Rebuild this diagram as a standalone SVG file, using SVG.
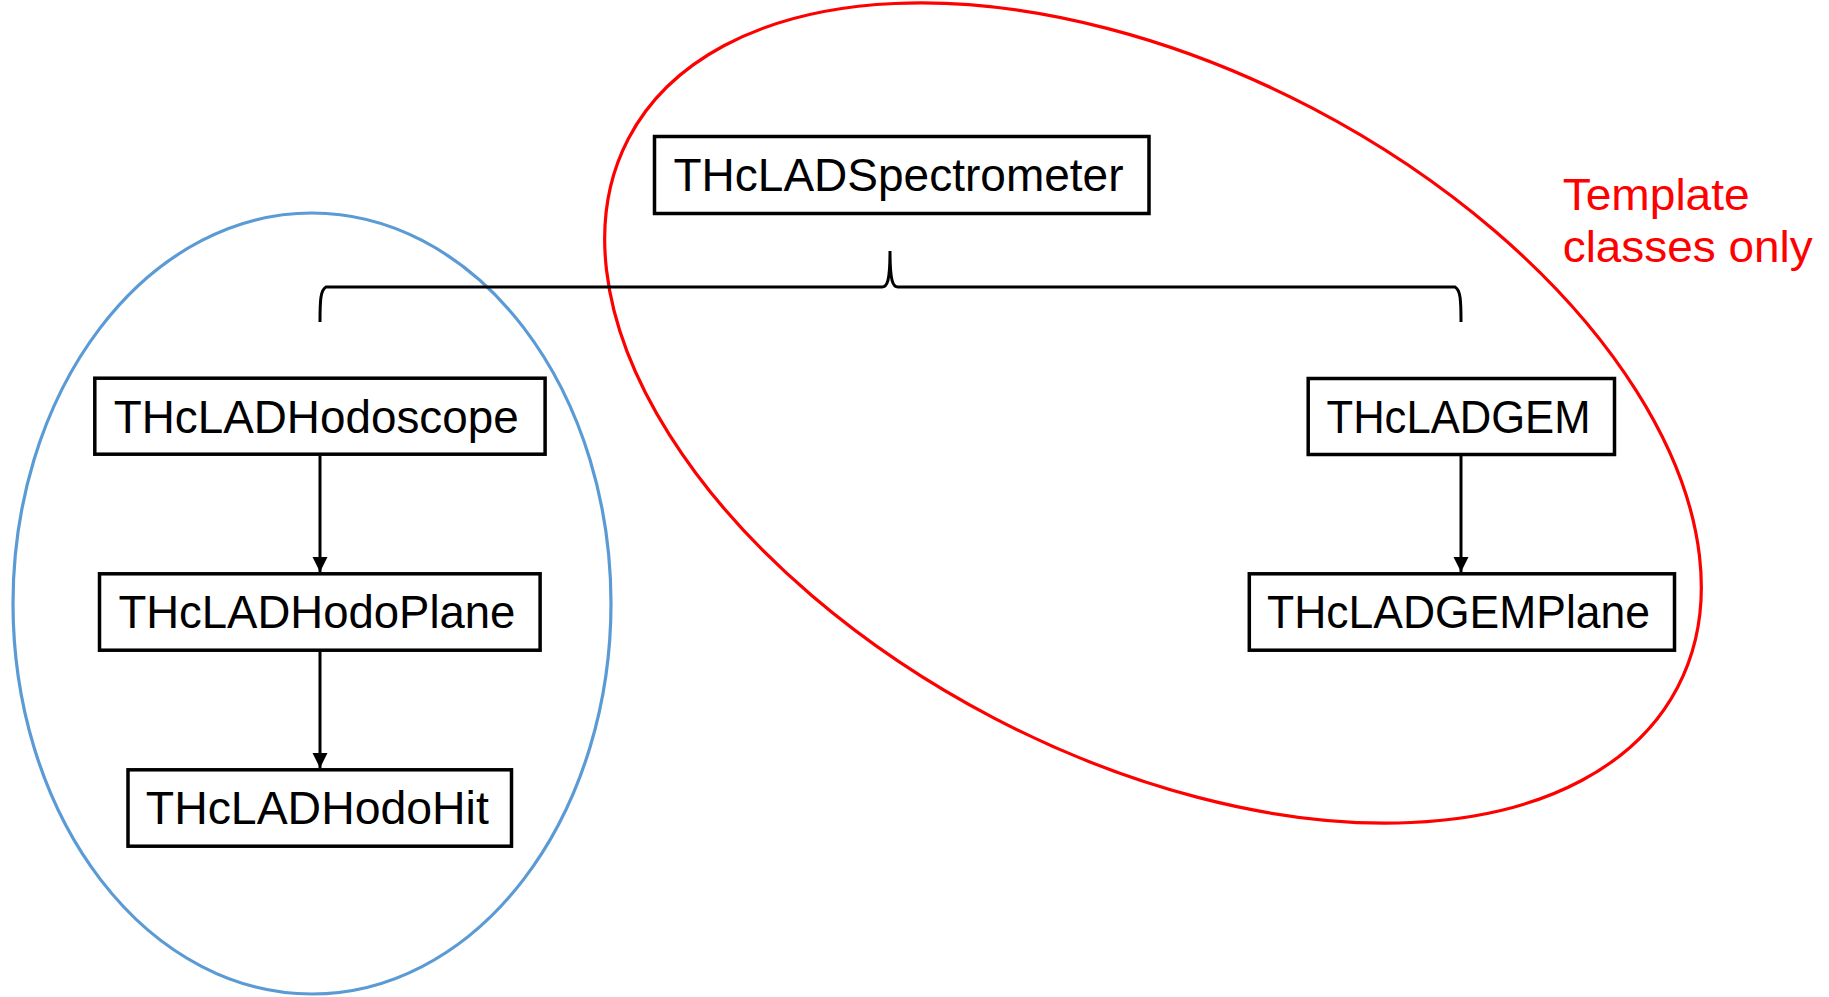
<svg xmlns="http://www.w3.org/2000/svg" width="1829" height="997" viewBox="0 0 1829 997">
<style>
.box{fill:#ffffff;stroke:#000000;stroke-width:3.5}
.lbl{font-family:"Liberation Sans",Arial,sans-serif;font-size:46px;fill:#000000}
.note{font-family:"Liberation Sans",Arial,sans-serif;font-size:45px;fill:#ff0000}
.conn{fill:none;stroke:#000000;stroke-width:3}
</style>
<defs>
<marker id="arr" markerUnits="userSpaceOnUse" markerWidth="16" markerHeight="16" refX="15" refY="7.5" orient="auto">
<path d="M0,0 L15,7.5 L0,15 Z" fill="#000000"/>
</marker>
</defs>
<rect width="1829" height="997" fill="#ffffff"/>
<g id="groups">
<ellipse id="blue-group" cx="312" cy="603.5" rx="299" ry="390.5" fill="none" stroke="#5B9BD5" stroke-width="3.2"/>
<ellipse id="red-group" cx="1153" cy="413" rx="592" ry="344" transform="rotate(27.6 1153 413)" fill="none" stroke="#ff0000" stroke-width="3.2"/>
</g>
<g id="connectors">
<path class="conn" stroke-width="3.5" d="M320,322 C320,300 320.5,290 326,287 L882,287 C887,287 890,282 890,251 C890,282 893,287 898,287 L1455,287 C1460.5,290 1461,300 1461,322"/>
<line class="conn" x1="320" y1="456" x2="320" y2="572" marker-end="url(#arr)"/>
<line class="conn" x1="320" y1="652" x2="320" y2="768" marker-end="url(#arr)"/>
<line class="conn" x1="1461" y1="456" x2="1461" y2="572" marker-end="url(#arr)"/>
</g>
<g id="node-spectrometer">
<rect class="box" x="654.5" y="136.5" width="494.5" height="77"/>
<text class="lbl" x="673.5" y="191" textLength="450" lengthAdjust="spacingAndGlyphs">THcLADSpectrometer</text>
</g>
<g id="node-hodoscope">
<rect class="box" x="94.8" y="378.2" width="450.3" height="76"/>
<text class="lbl" x="113.7" y="433" textLength="405" lengthAdjust="spacingAndGlyphs">THcLADHodoscope</text>
</g>
<g id="node-hodoplane">
<rect class="box" x="99.5" y="573.8" width="440.6" height="76.4"/>
<text class="lbl" x="118.4" y="628" textLength="397" lengthAdjust="spacingAndGlyphs">THcLADHodoPlane</text>
</g>
<g id="node-hodohit">
<rect class="box" x="128" y="769.8" width="383.5" height="76.4"/>
<text class="lbl" x="145.8" y="823.5" textLength="343" lengthAdjust="spacingAndGlyphs">THcLADHodoHit</text>
</g>
<g id="node-gem">
<rect class="box" x="1308.2" y="378.5" width="306.3" height="76"/>
<text class="lbl" x="1326.5" y="433" textLength="264" lengthAdjust="spacingAndGlyphs">THcLADGEM</text>
</g>
<g id="node-gemplane">
<rect class="box" x="1249.3" y="573.8" width="425.2" height="76.4"/>
<text class="lbl" x="1267" y="628" textLength="383" lengthAdjust="spacingAndGlyphs">THcLADGEMPlane</text>
</g>
<g id="note">
<text class="note" x="1562.7" y="210" textLength="187" lengthAdjust="spacingAndGlyphs">Template</text>
<text class="note" x="1562.7" y="262" textLength="250" lengthAdjust="spacingAndGlyphs">classes only</text>
</g>
</svg>
